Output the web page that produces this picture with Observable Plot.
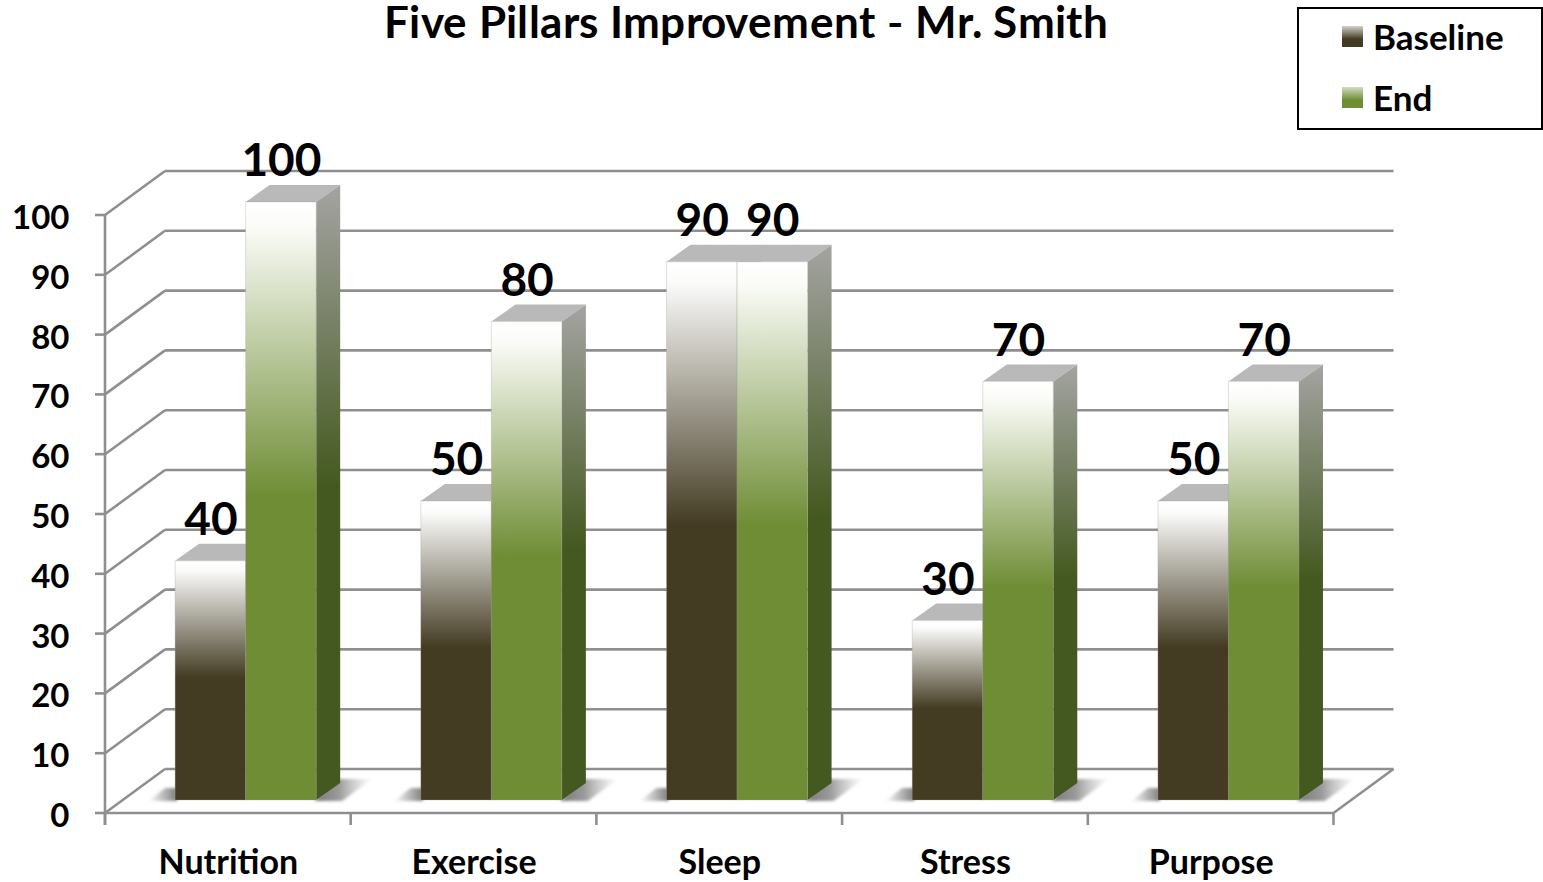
<!DOCTYPE html>
<html>
<head>
<meta charset="utf-8">
<script src="https://cdn.jsdelivr.net/npm/d3@7"></script>
<script src="https://cdn.jsdelivr.net/npm/@observablehq/plot@0.6"></script>
<style>
  @font-face { font-family: "TitleLato"; src: local("Lato Bold"), local("Lato-Bold"); font-weight: 700; ascent-override: 80%; descent-override: 20%; line-gap-override: 0%; }
  html, body { margin: 0; padding: 0; background: #fff; overflow: hidden; }
  body { position: relative; width: 1543px; height: 882px; font-family: Lato, "Open Sans", sans-serif; font-weight: 700; color: #000; }
  #title { position: absolute; left: 0; top: 3px; width: 1492px; text-align: center; font-family: TitleLato, Lato, sans-serif; font-size: 44.3px; letter-spacing: 0.37px; line-height: 45px; }
  #legend { position: absolute; left: 1297px; top: 7px; width: 242px; height: 119px; border: 2px solid #000; box-sizing: content-box; }
  .entry { position: absolute; left: 43px; font-size: 35px; line-height: 40px; height: 40px; }
  .entry i { position: absolute; left: 0; top: 10px; width: 21px; height: 21px; }
  .entry span { position: absolute; left: 31px; white-space: nowrap; }
</style>
</head>
<body>
<div id="title">Five Pillars Improvement - Mr. Smith</div>
<div id="legend"></div>
<script>
const categories = ["Nutrition", "Exercise", "Sleep", "Stress", "Purpose"];
const seriesNames = ["Baseline", "End"];
const baselineValues = [40, 50, 90, 30, 50];
const endValues = [100, 80, 90, 70, 70];
const yTicks = [0, 10, 20, 30, 40, 50, 60, 70, 80, 90, 100];

const table = categories.flatMap((category, i) => [
  {category, series: seriesNames[0], value: baselineValues[i]},
  {category, series: seriesNames[1], value: endValues[i]}
]);

// Pseudo-3D geometry
const plotWidth = 1543, marginLeft = 105, marginRight = 209.5;
const wallX = 60, wallY = 44;   // depth of the back wall
const barX = 17.8, barY = 13;   // how far bars stand from the front of the floor
const sideX = 24, sideY = 17;   // depth of a bar
const axisColor = "#8f8f8f";
const fills = {Baseline: "url(#gBase)", End: "url(#gEnd)"};

const NS = "http://www.w3.org/2000/svg";
function el(name, attrs) {
  const n = document.createElementNS(NS, name);
  for (const k in attrs) n.setAttribute(k, attrs[k]);
  return n;
}
function poly(g, pts, fill) {
  g.appendChild(el("polygon", {points: pts.map(p => p.join(",")).join(" "), fill, stroke: "none"}));
}
function grad(id, stops, x2 = 0, y2 = 1) {
  const g = el("linearGradient", {id, x1: 0, y1: 0, x2, y2});
  for (const [o, c, a] of stops) g.appendChild(el("stop", {offset: o, "stop-color": c, "stop-opacity": a ?? 1}));
  return g;
}
function addDefs(svg) {
  const d = el("defs", {});
  d.appendChild(grad("gBase", [[0, "#ffffff"], [0.04, "#fbfbfa"], [0.49, "#433b22"], [1, "#433b22"]]));
  d.appendChild(grad("gEnd", [[0, "#ffffff"], [0.04, "#fbfcf8"], [0.49, "#6f8d35"], [1, "#6f8d35"]]));
  d.appendChild(grad("gSide", [[0, "#a4a4a2"], [0.49, "#44591f"], [1, "#44591f"]]));
  d.appendChild(grad("gShL", [[0, "#777", 0], [1, "#777", 0.95]], 1, 0));
  d.appendChild(grad("gShR", [[0, "#777", 1], [0.42, "#888", 0.85], [1, "#aaa", 0]], 1, 0));
  const blur = el("filter", {id: "soft", x: "-20%", y: "-20%", width: "140%", height: "140%"});
  blur.appendChild(el("feGaussianBlur", {stdDeviation: 1.6}));
  d.appendChild(blur);
  svg.insertBefore(d, svg.firstChild);
}

// Drawn once, in the first facet, whose coordinates coincide with the whole plot's.
const wall = Plot.ruleY(yTicks, {
  y: d => d,
  fx: () => categories[0],
  render(index, scales) {
    const g = el("g", {stroke: axisColor, "stroke-width": 2.6, fill: "none"});
    const L = marginLeft, R = plotWidth - marginRight;
    const line = (x1, y1, x2, y2) => g.appendChild(el("line", {x1, y1, x2, y2}));
    const y0 = scales.y(0);
    for (const t of yTicks) {
      const y = scales.y(t);
      line(L, y, L + wallX, y - wallY);
      line(L + wallX, y - wallY, R + wallX, y - wallY);
    }
    line(L, scales.y(100), L, y0 + 12);
    line(L, y0, R, y0);
    line(R, y0, R + wallX, y0 - wallY);
    categories.concat("").forEach((c, k) => {
      const x = L + k * (R - L) / categories.length;
      line(x, y0, x, y0 + 12);
    });
    return g;
  }
});

const shadows = Plot.barY(table, {
  fx: "category", x: "series", y: "value",
  render(index, scales) {
    const g = el("g", {filter: "url(#soft)"});
    const bw = scales.x.bandwidth();
    const base = scales.y(0) - barY;
    for (const i of index) {
      const d = table[i];
      const x = scales.x(d.series) + barX;
      if (d.series === seriesNames[0]) {
        poly(g, [[x - 27, base + 1], [x + 2, base + 1], [x + 2, base - 12], [x - 10, base - 12]], "url(#gShL)");
      } else {
        const r = x + bw;
        poly(g, [[r - 2, base + 1], [r + sideX - 2, base - 21], [r + 56, base - 21], [r + 26, base + 1]], "url(#gShR)");
      }
    }
    return g;
  }
});

function faces(series) {
  return Plot.barY(table, {
    filter: d => d.series === series,
    fx: "category", x: "series", y: "value",
    render(index, scales) {
      const g = el("g", {});
      const bw = scales.x.bandwidth();
      const y0 = scales.y(0) - barY;
      for (const i of index) {
        const d = table[i];
        const x1 = scales.x(d.series) + barX, x2 = x1 + bw, y = scales.y(d.value) - barY;
        poly(g, [[x1, y], [x1 + sideX, y - sideY], [x2 + sideX, y - sideY], [x2, y]], "#b9b9b9");
        poly(g, [[x2, y], [x2 + sideX, y - sideY], [x2 + sideX, y0 - sideY], [x2, y0]], "url(#gSide)");
      }
      return g;
    }
  });
}
function fronts(series) {
  return Plot.barY(table, {
    filter: d => d.series === series,
    fx: "category", x: "series", y: "value",
    fill: fills[series], dx: barX, dy: -barY,
    stroke: "#9a9a9a", strokeOpacity: 0.3, strokeWidth: 1
  });
}

const chart = Plot.plot({
  width: plotWidth,
  height: 882,
  marginLeft,
  marginRight,
  marginTop: 215,
  marginBottom: 69,
  style: {background: "transparent", fontFamily: "Lato, 'Open Sans', sans-serif", overflow: "visible"},
  fx: {domain: categories, padding: 0, round: false, axis: null},
  x: {domain: seriesNames, paddingInner: 0, paddingOuter: 0.742, round: false, axis: null},
  y: {domain: [0, 100], axis: null},
  marks: [
    wall,
    shadows,
    faces(seriesNames[0]), fronts(seriesNames[0]),
    faces(seriesNames[1]), fronts(seriesNames[1]),
    Plot.text(table, {
      fx: "category", x: "series", y: "value", text: d => String(d.value),
      dx: barX, dy: -54, fontSize: 46, fontWeight: 700, fill: "#000", textAnchor: "middle", lineAnchor: "middle"
    }),
    Plot.axisY({
      ticks: yTicks, tickFormat: d => String(d), label: null, tickSize: 10, tickPadding: 26, dy: 3,
      stroke: axisColor, strokeWidth: 2.6, strokeOpacity: 1, fill: "#000", fontSize: 33, fontWeight: 700
    }),
    Plot.axisFx({
      anchor: "bottom", label: null, tickSize: 0, tickPadding: 36,
      fill: "#000", fontSize: 34, fontWeight: 700
    })
  ]
});
addDefs(chart);
// the y axis ticks keep to their own scale positions; only its labels take the nudge
chart.querySelectorAll('[aria-label="y-axis tick"]').forEach(n => n.removeAttribute("transform"));
document.body.insertBefore(chart, document.body.firstChild);
chart.style.position = "absolute";
chart.style.left = "0";
chart.style.top = "0";

const legendEntries = [
  {name: seriesNames[0], top: 7, swatch: "linear-gradient(#d2d2ca, #433b22 62%)"},
  {name: seriesNames[1], top: 68, swatch: "linear-gradient(#d3dcc0, #6f8d35 62%)"}
];
const legend = document.getElementById("legend");
for (const e of legendEntries) {
  const row = document.createElement("div");
  row.className = "entry";
  row.style.top = e.top + "px";
  const sw = document.createElement("i");
  sw.style.background = e.swatch;
  const label = document.createElement("span");
  label.textContent = e.name;
  row.append(sw, label);
  legend.appendChild(row);
}
</script>
</body>
</html>
